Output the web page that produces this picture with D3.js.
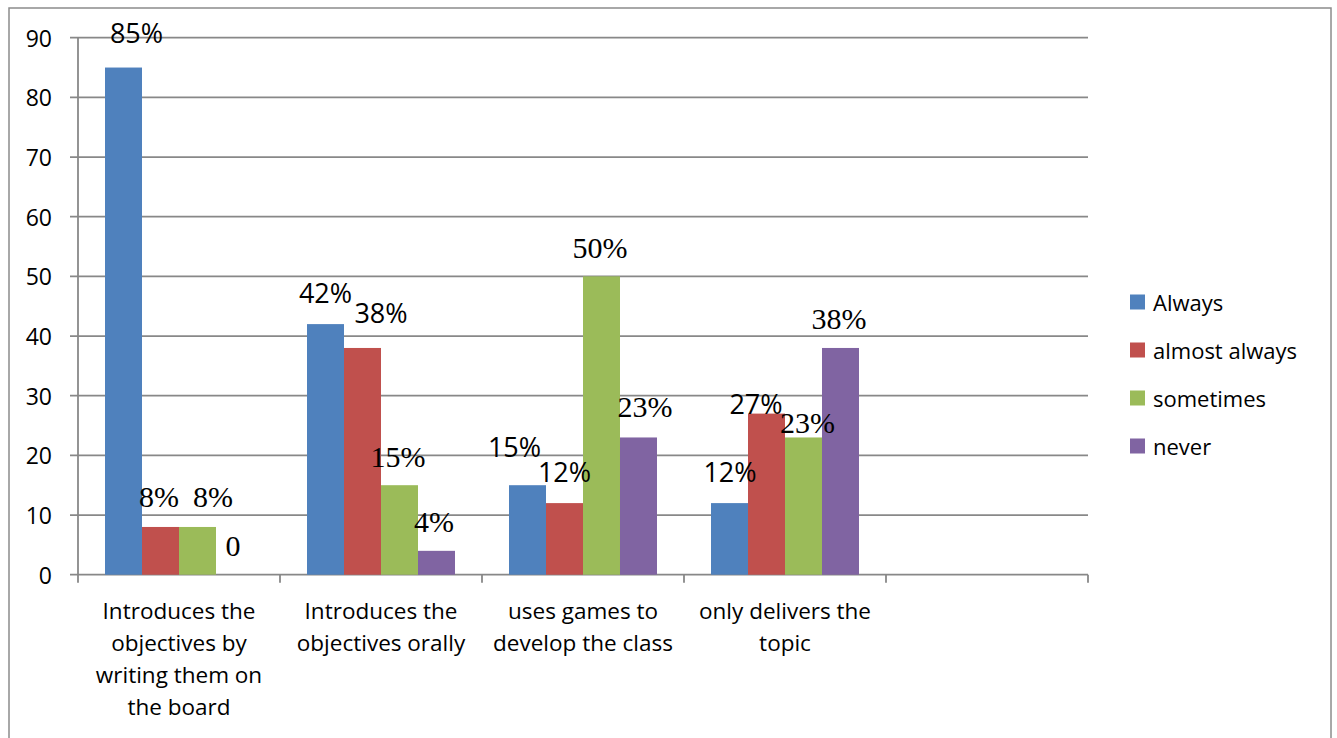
<!DOCTYPE html>
<html>
<head>
<meta charset="utf-8">
<script src="https://cdn.jsdelivr.net/npm/d3@7"></script>
<style>
  html, body { margin: 0; padding: 0; background: #fff; }
  svg { display: block; }
</style>
</head>
<body>
<svg id="chart" width="1337" height="738"></svg>
<script>
// ---------------- DATA ----------------
const categories = [
  "Introduces the objectives by writing them on the board",
  "Introduces the objectives orally",
  "uses games to develop the class",
  "only delivers the topic",
  ""
];
const seriesNames = ["Always", "almost always", "sometimes", "never"];
const always       = [85, 42, 15, 12];
const almostAlways = [8, 38, 12, 27];
const sometimes    = [8, 15, 50, 23];
const never        = [0, 4, 23, 38];
const yTicks = [0, 10, 20, 30, 40, 50, 60, 70, 80, 90];

// ---------------- STYLE / LAYOUT CONFIG ----------------
const colors = ["#4F81BD", "#C0504D", "#9BBB59", "#8064A2"];
// label font per category x series (true = serif)
const labelSerif = [
  [false, true, true, true],
  [false, false, true, true],
  [false, false, true, true],
  [false, false, true, true]
];
// manual label nudges [dx, dy] per category x series
const labelNudge = [
  [[13, -4.5], [-1.5, 0], [15.5, 0], [-1.5, 1.5]],
  [[0, -1], [18.5, -5], [-1.5, 2], [-2.5, 1]],
  [[-13, -8], [0, -1], [-1.5, 2], [6.5, 0]],
  [[0.5, -1], [-10.5, 20], [4, 15.5], [-1.5, 1]]
];

const seriesValues = [always, almostAlways, sometimes, never];

const svg = d3.select("#chart");
const gridColor = "#888888";
const sans = "'Open Sans', 'Noto Sans', sans-serif";
const serif = "'Liberation Serif', 'DejaVu Serif', serif";

// outer border
svg.append("rect")
  .attr("x", 9).attr("y", 8)
  .attr("width", 1322).attr("height", 760)
  .attr("fill", "none").attr("stroke", "#8c8c8c").attr("stroke-width", 1.5);

const plot = { left: 78, right: 1088, top: 37.7, bottom: 574.7 };

const x = d3.scaleBand()
  .domain(d3.range(categories.length))
  .range([plot.left, plot.right])
  .paddingInner(0).paddingOuter(0);

const xInner = d3.scaleBand()
  .domain(d3.range(seriesNames.length))
  .range([0, x.bandwidth()])
  .paddingInner(0).paddingOuter(0.73);

const y = d3.scaleLinear().domain([0, 90]).range([plot.bottom, plot.top]);

// gridlines (including stubs left of axis)
svg.append("g")
  .selectAll("line")
  .data(yTicks)
  .join("line")
  .attr("x1", plot.left - 8).attr("x2", plot.right)
  .attr("y1", d => y(d)).attr("y2", d => y(d))
  .attr("stroke", gridColor).attr("stroke-width", 1.8);

// y axis line
svg.append("line")
  .attr("x1", plot.left).attr("x2", plot.left)
  .attr("y1", y(90)).attr("y2", y(0))
  .attr("stroke", gridColor).attr("stroke-width", 1.8);

// y tick labels
svg.append("g")
  .selectAll("text")
  .data(yTicks)
  .join("text")
  .attr("x", 52).attr("y", d => y(d))
  .attr("text-anchor", "end")
  .attr("dominant-baseline", "central")
  .attr("font-family", sans).attr("font-size", 23)
  .attr("fill", "#000")
  .text(d => d);

// x ticks at band boundaries
const boundaries = d3.range(categories.length + 1).map(i =>
  i < categories.length ? x(i) : x(categories.length - 1) + x.bandwidth());
svg.append("g")
  .selectAll("line")
  .data(boundaries)
  .join("line")
  .attr("x1", d => d).attr("x2", d => d)
  .attr("y1", y(0)).attr("y2", y(0) + 8)
  .attr("stroke", gridColor).attr("stroke-width", 1.8);

// bars
const barData = [];
categories.forEach((c, ci) => {
  seriesValues.forEach((vals, si) => {
    if (ci < vals.length) barData.push({ ci, si, v: vals[ci] });
  });
});

svg.append("g")
  .selectAll("rect")
  .data(barData)
  .join("rect")
  .attr("x", d => x(d.ci) + xInner(d.si))
  .attr("width", xInner.bandwidth())
  .attr("y", d => y(d.v))
  .attr("height", d => y(0) - y(d.v))
  .attr("fill", d => colors[d.si]);

// data labels
svg.append("g")
  .selectAll("text")
  .data(barData)
  .join("text")
  .attr("x", d => x(d.ci) + xInner(d.si) + xInner.bandwidth() / 2 + labelNudge[d.ci][d.si][0])
  .attr("y", d => y(d.v) - 20 + labelNudge[d.ci][d.si][1])
  .attr("text-anchor", "middle")
  .attr("font-family", d => labelSerif[d.ci][d.si] ? serif : sans)
  .attr("font-size", d => labelSerif[d.ci][d.si] ? 30 : 27)
  .attr("fill", "#000")
  .text(d => d.v === 0 ? "0" : d.v + "%");

// category labels with wrapping
const catG = svg.append("g");
const maxW = 196;
const catFont = 22.5;
categories.forEach((c, ci) => {
  if (!c) return;
  const t = catG.append("text")
    .attr("text-anchor", "middle")
    .attr("font-family", sans).attr("font-size", catFont)
    .attr("fill", "#000");
  const words = c.split(" ");
  let lines = [];
  let cur = [];
  const probe = svg.append("text").attr("font-family", sans).attr("font-size", catFont);
  words.forEach(w => {
    const test = cur.concat([w]).join(" ");
    probe.text(test);
    if (probe.node().getComputedTextLength() > maxW && cur.length) {
      lines.push(cur.join(" "));
      cur = [w];
    } else {
      cur.push(w);
    }
  });
  if (cur.length) lines.push(cur.join(" "));
  probe.remove();
  lines.forEach((ln, li) => {
    t.append("tspan")
      .attr("x", x(ci) + x.bandwidth() / 2)
      .attr("y", 619 + li * 32)
      .text(ln);
  });
});

// legend
const legend = svg.append("g");
seriesNames.forEach((name, i) => {
  const cy = 302 + i * 48;
  legend.append("rect")
    .attr("x", 1130).attr("y", cy - 7.5)
    .attr("width", 15).attr("height", 15)
    .attr("fill", colors[i]);
  legend.append("text")
    .attr("x", 1153).attr("y", cy)
    .attr("dominant-baseline", "central")
    .attr("font-family", sans).attr("font-size", 22)
    .attr("fill", "#000")
    .text(name);
});
</script>
</body>
</html>
